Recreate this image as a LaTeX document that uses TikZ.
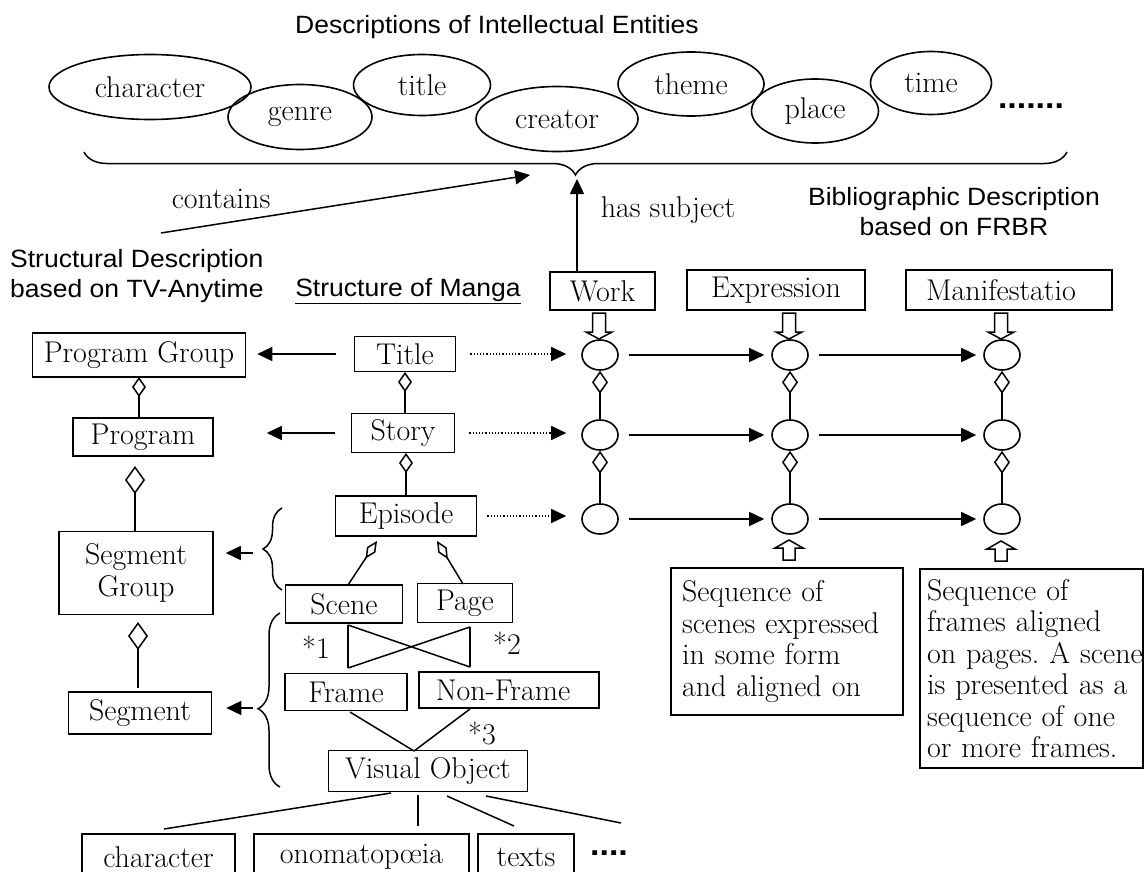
\documentclass[tikz,border=0pt]{standalone}
\usepackage{fontspec}
\newfontfamily\sansf{Liberation Sans}[FakeStretch=1.06]
\newcommand\serifsz{\fontsize{30}{31.5}\selectfont\addfontfeature{FakeStretch=1.05,FakeBold=1.5}}
\usetikzlibrary{arrows.meta,decorations.pathreplacing,calc,shapes.geometric}
\begin{document}
\frenchspacing
\begin{tikzpicture}[x=1pt,y=-1pt,
  every node/.style={font=\serifsz},
  box/.style={draw,line width=1.6pt,inner sep=0pt},
  ell/.style={draw,ellipse,line width=1.6pt,inner sep=0pt},
  circ/.style={draw,ellipse,line width=1.6pt,minimum width=36pt,minimum height=30pt,inner sep=0pt},
  lbl/.style={font=\sansf\fontsize{25}{30}\selectfont,inner sep=0pt},
  dots/.style={font=\sansf\bfseries\fontsize{32}{32}\selectfont,inner sep=0pt},
  ln/.style={line width=1.5pt},
  arr/.style={line width=1.5pt,-{Triangle[length=15pt,width=14pt]}},
  darr/.style={line width=1.2pt,dotted,-{Triangle[length=15pt,width=14pt]}},
  dia/.style={line width=1.5pt,{Diamond[open,length=20pt,width=14pt]}-},
  cdia/.style={line width=1.5pt,{Diamond[open,length=23pt,width=16pt]}-},
  bigdia/.style={line width=1.5pt,{Diamond[open,length=28pt,width=20pt]}-},
  epdia/.style={line width=1.5pt,{Diamond[open,length=21pt,width=10pt]}-},
  brc/.style={line width=1.5pt,decorate,decoration={brace,amplitude=#1}},
  hdown/.pic={\draw[line width=1.5pt] (-6.5,0) -- (-6.5,19) -- (-13,19) -- (0,26) -- (13,19) -- (6.5,19) -- (6.5,0) -- cycle;},
  hup/.pic={\draw[line width=1.5pt] (-6,20) -- (-6,8) -- (-14,8) -- (0,0) -- (14,8) -- (6,8) -- (6,20) -- cycle;}
]
\useasboundingbox (0,0) rectangle (1145,872);
\fill[white] (0,0) rectangle (1145,872);

% ---- top: descriptions of intellectual entities
\node[lbl] (ttl) at (497,27) {Descriptions of Intellectual Entities};
\node[ell,minimum width=202pt,minimum height=65pt] (e1) at (150,87) {character};
\node[ell,minimum width=144pt,minimum height=65pt] (e2) at (300,117) {genre};
\node[ell,minimum width=137pt,minimum height=61pt] (e3) at (422,85) {title};
\node[ell,minimum width=162pt,minimum height=65pt] (e4) at (557,119) {creator};
\node[ell,minimum width=146pt,minimum height=64pt] (e5) at (691,84) {theme};
\node[ell,minimum width=127pt,minimum height=64pt] (e6) at (815,111) {place};
\node[ell,minimum width=121pt,minimum height=63pt] (e7) at (931,83) {time};
\node[dots,anchor=base] (edots) at (1031,109) {.......};
\draw[brc=23pt] (1067,152) -- (84,152);

\coordinate (c0) at (161,233);
\coordinate (c1) at (530,175);
\draw[arr] (c0) -- (c1);
\node (contains) at (221,199) {contains};
\node (hassub) at (668,210) {has subject};

\node[lbl,anchor=west,align=left] (sd) at (10,276) {Structural Description\\based on TV-Anytime};
\node[lbl] (som) at (408,291) {\underline{Structure of Manga}};
\node[lbl,align=center] (bd) at (954,212) {Bibliographic Description\\based on FRBR};

% ---- FRBR
\node[box,minimum width=105pt,minimum height=38pt] (work) at (602.5,291) {Work};
\node[box,minimum width=178pt,minimum height=40pt] (expr) at (776,290) {Expression};
\node[box,minimum width=206pt,minimum height=40pt] (man) at (1009,290) {\hspace*{-16pt}Manifestatio};
\coordinate (btip) at (577,179);
\draw[arr] (work.north -| btip) -- (btip);

\node[circ] (W1) at (600,355) {};
\node[circ] (W2) at (600,435) {};
\node[circ] (W3) at (600,519) {};
\node[circ] (E1) at (790,355) {};
\node[circ] (E2) at (790,435) {};
\node[circ] (E3) at (790,519) {};
\node[circ] (M1) at (1002,355) {};
\node[circ] (M2) at (1002,435) {};
\node[circ] (M3) at (1002,519) {};

\pic at (599,313) {hdown};
\pic at (789,313) {hdown};
\pic at (1001,313) {hdown};
\pic at (789,540) {hup};
\pic at (1001,541) {hup};

\foreach \a/\b in {W1/E1,E1/M1,W2/E2,E2/M2,W3/E3,E3/M3}
  \draw[arr,shorten <=10pt,shorten >=7pt] (\a) -- (\b);
\foreach \a/\b in {W1/W2,W2/W3,E1/E2,E2/E3,M1/M2,M2/M3}
  \draw[cdia] (\a.south) -- (\b.north);

\node[box,text width=210pt,inner xsep=11pt,inner ysep=0pt,minimum height=147pt,align=left] (tb1) at (787,641.5)
  {Sequence of\\scenes expressed\\in some form\\and aligned on};
\node[box,text width=209pt,inner xsep=7pt,inner ysep=0pt,minimum height=199pt,align=left] (tb2) at (1031.5,668.5)
  {Sequence of\\frames aligned\\\mbox{on pages. A scene}\\is presented as a\\sequence of one\\or more frames.};

% ---- TV-Anytime
\node[box,minimum width=213pt,minimum height=44pt] (pg) at (139,355) {Program Group};
\node[box,minimum width=140pt,minimum height=38pt] (pr) at (143,437) {Program};
\node[box,minimum width=154pt,minimum height=83pt,align=center] (sg) at (136,573) {Segment\\Group};
\node[box,minimum width=143pt,minimum height=42pt] (sgm) at (140,713) {Segment};
\coordinate (pd0) at (139,377);
\coordinate (pd0e) at (139,418);
\coordinate (pd1) at (135,466);
\coordinate (pd1e) at (135,532);
\coordinate (pd2) at (138,622);
\coordinate (pd2e) at (138,688);
\draw[dia] (pd0) -- (pd0e);
\draw[bigdia] (pd1) -- (pd1e);
\draw[bigdia] (pd2) -- (pd2e);

% ---- Manga structure
\node[box,minimum width=101pt,minimum height=35pt] (tl) at (405,354) {Title};
\node[box,minimum width=103pt,minimum height=39pt] (st) at (403,433) {Story};
\node[box,minimum width=141pt,minimum height=40pt] (ep) at (406,516) {Episode};
\node[box,minimum width=117pt,minimum height=38pt] (sc) at (344,604) {Scene};
\node[box,minimum width=95pt,minimum height=39pt] (pa) at (465,603) {Page};
\node[box,minimum width=122pt,minimum height=37pt] (fr) at (346,692) {Frame};
\node[box,minimum width=180pt,minimum height=36pt] (nf) at (509,690) {\hspace*{-12pt}Non-Frame};
\node[box,minimum width=199pt,minimum height=41pt] (vo) at (428,771) {Visual Object};
\node[box,minimum width=153pt,minimum height=46pt] (ch) at (158.5,857) {character};
\node[box,minimum width=215pt,minimum height=46pt] (on) at (361.5,857) {onomatopœia};
\node[box,minimum width=96pt,minimum height=46pt] (tx) at (526,857) {texts};
\node[dots,anchor=base west] (bdots) at (590,855) {....};

\coordinate (sd0) at (405,372);
\coordinate (sd0e) at (405,414);
\coordinate (sd1) at (406,453);
\coordinate (sd1e) at (406,496);
\draw[dia] (sd0) -- (sd0e);
\draw[dia] (sd1) -- (sd1e);

\draw[arr,shorten <=18pt,shorten >=11pt] (tl.west) -- (pg.east |- tl.west);
\draw[arr,shorten <=16pt,shorten >=53pt] (st.west) -- (pr.east |- st.west);
\draw[darr,shorten <=14pt,shorten >=15pt] (tl.east) -- (W1.west |- tl.east);
\draw[darr,shorten <=14pt,shorten >=15pt] (st.east) -- (W2.west |- st.east);
\draw[darr,shorten <=10pt,shorten >=15pt] (ep.east) -- (W3.west |- ep.east);

\coordinate (epL) at (377,541);
\coordinate (epR) at (437,541);
\coordinate (scT) at (348,585);
\coordinate (paT) at (463,584);
\draw[epdia] (epL) -- (scT);
\draw[epdia] (epR) -- (paT);

% braces and arrows to segment boxes
\draw[brc=19pt] (282,590) -- (282,508);
\draw[line width=1.5pt,decorate,decoration={brace,amplitude=22pt,aspect=0.45}] (280,787) -- (280,613);
\coordinate (b1) at (253,553);
\coordinate (b2) at (253,708);
\draw[arr,shorten >=12pt] (b1) -- (sg.east |- b1);
\draw[arr,shorten >=14pt] (b2) -- (sgm.east |- b2);

% scene/page to frame/non-frame
\coordinate (x1) at (348,625);
\coordinate (x2) at (470,627);
\coordinate (x3) at (348,668);
\coordinate (x4) at (470,667);
\draw[ln] (x1) -- (x3);
\draw[ln] (x2) -- (x4);
\draw[ln] (x1) -- (x4);
\draw[ln] (x3) -- (x2);
\node (s1) at (316,647) {*1};
\node (s2) at (507,643) {*2};
\node (s3) at (482,733) {*3};

\coordinate (voT) at (414,751);
\coordinate (frB) at (350,712);
\coordinate (nfB) at (470,709);
\draw[ln] (frB) -- (voT);
\draw[ln] (nfB) -- (voT);

\coordinate (v1) at (391,793);
\coordinate (v2) at (418,795);
\coordinate (v3) at (447,796);
\coordinate (v4) at (486,796);
\coordinate (chT) at (164,829);
\coordinate (onT) at (418,826);
\coordinate (txT) at (514,826);
\coordinate (vend) at (621,823);
\draw[ln] (v1) -- (chT);
\draw[ln] (v2) -- (onT);
\draw[ln] (v3) -- (txT);
\draw[ln] (v4) -- (vend);
\end{tikzpicture}
\end{document}
